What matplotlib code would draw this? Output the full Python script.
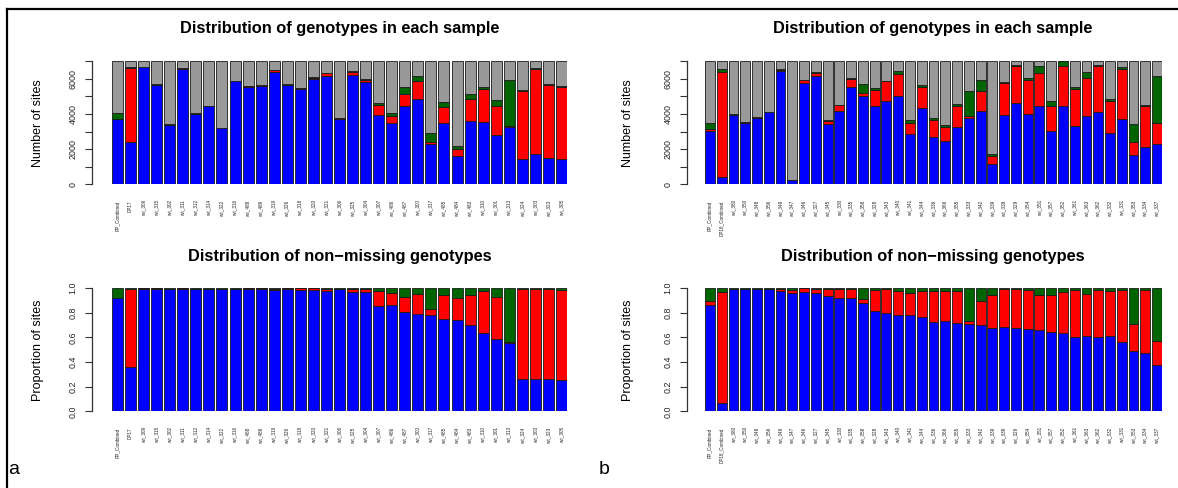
import matplotlib
matplotlib.use("Agg")
import matplotlib.pyplot as plt
from matplotlib.lines import Line2D
import numpy as np

plt.rcParams['font.family'] = ['Liberation Sans', 'DejaVu Sans']

# ---------------- data ----------------
N_SITES = 7010

samples_a = ["RP_Combined", "DP17", "wt_309", "wt_315", "wt_302", "wt_311", "wt_312",
             "wt_314", "wt_322", "wt_316", "wt_488", "wt_489", "wt_319", "wt_326",
             "wt_318", "wt_320", "wt_321", "wt_306", "wt_325", "wt_304", "wt_307",
             "wt_486", "wt_487", "wt_300", "wt_317", "wt_485", "wt_484", "wt_483",
             "wt_310", "wt_301", "wt_313", "wt_324", "wt_303", "wt_323", "wt_305"]
hom_ref_a = [3705, 2394, 6650, 5662, 3382, 6574, 4009, 4427, 3192, 5850, 5540, 5610,
             6400, 5630, 5430, 6000, 6175, 3724, 6232, 5795, 3952, 3477, 4465, 4864,
             2299, 3477, 1615, 3610, 3534, 2812, 3287, 1425, 1729, 1482, 1444]
het_a = [20, 4218, 20, 10, 10, 40, 15, 20, 10, 20, 30, 40, 80, 40, 50, 60, 150, 20,
         150, 150, 570, 418, 665, 988, 133, 912, 399, 1254, 1881, 1653, 57, 3895,
         4826, 4180, 4085]
hom_alt_a = [322, 50, 20, 20, 20, 20, 20, 20, 15, 30, 20, 20, 30, 20, 20, 20, 30, 20,
             40, 40, 95, 152, 399, 285, 513, 266, 171, 285, 114, 342, 2603, 57, 57,
             38, 76]

samples_b = ["RP_Combined", "DP18_Combined", "wt_380", "wt_350", "wt_348", "wt_356",
             "wt_349", "wt_347", "wt_346", "wt_327", "wt_345", "wt_330", "wt_335",
             "wt_358", "wt_328", "wt_343", "wt_340", "wt_341", "wt_344", "wt_336",
             "wt_366", "wt_355", "wt_333", "wt_342", "wt_339", "wt_338", "wt_329",
             "wt_354", "wt_351", "wt_357", "wt_352", "wt_361", "wt_363", "wt_362",
             "wt_332", "wt_331", "wt_353", "wt_334", "wt_337"]
hom_ref_b = [3040, 437, 3952, 3515, 3800, 4104, 6422, 247, 5757, 6137, 3420, 4142,
             5529, 5035, 4465, 4712, 4997, 2869, 4332, 2717, 2489, 3287, 3762, 4180,
             1159, 3952, 4617, 4009, 4427, 3040, 4427, 3344, 3895, 4085, 2945, 3724,
             1672, 2147, 2299]
het_b = [95, 5928, 10, 10, 10, 10, 100, 5, 170, 200, 209, 360, 480, 152, 912, 1140,
         1292, 646, 1197, 950, 798, 1178, 133, 1140, 456, 1805, 2128, 1938, 1900,
         1425, 2318, 2071, 2147, 2622, 1767, 2831, 760, 2318, 1178]
hom_alt_b = [380, 190, 20, 20, 20, 20, 33, 5, 20, 40, 38, 20, 33, 532, 95, 38, 133,
             152, 133, 95, 95, 114, 1425, 627, 95, 38, 57, 76, 380, 285, 247, 95,
             323, 95, 133, 95, 1007, 57, 2660]

COLORS = ["#0000ff", "#ff0000", "#006400", "#999999"]
EDGE = "#1a1a1a"

W, H = 1178, 488
ROW_SHIFT = 227  # vertical offset of the second row of plots, in pixels
fig = plt.figure(figsize=(W / 100, H / 100), dpi=100)


def axes_px(left, right, top, bottom):
    return fig.add_axes([left / W, 1 - bottom / H, (right - left) / W, (bottom - top) / H])


def stacked(ax, labels, segments, ylim, yticks, ylabels, bar_left_px, ax_left_px,
            ax_right_px):
    n = len(labels)
    x = np.arange(n)
    width = 0.84
    # x limits so the first bar starts at bar_left_px and the last ends at ax_right_px
    span_px = ax_right_px - bar_left_px
    unit = span_px / (n - 1 + width)
    left_lim = -width / 2 - (bar_left_px - ax_left_px) / unit
    right_lim = n - 1 + width / 2
    bottom = np.zeros(n)
    for seg, col in zip(segments, COLORS):
        seg = np.asarray(seg, dtype=float)
        ax.bar(x, seg, width=width, bottom=bottom, color=col, edgecolor=EDGE,
               linewidth=0.6)
        bottom += seg
    ax.set_xlim(left_lim, right_lim)
    ax.set_ylim(*ylim)
    for s in ["top", "right", "bottom"]:
        ax.spines[s].set_visible(False)
    ax.spines["left"].set_bounds(yticks[0], yticks[-1])
    ax.spines["left"].set_color("#333333")
    ax.spines["left"].set_linewidth(0.9)
    ax.set_yticks(yticks)
    ax.set_yticklabels(ylabels, rotation=90, va="center", fontsize=6.4, color="#222222")
    ax.tick_params(axis="y", length=5, width=0.8, color="#333333", pad=8.5)
    ax.set_xticks(x)
    ax.set_xticklabels(labels, rotation=90, fontsize=3.3, color="#222222")
    ax.tick_params(axis="x", length=0, pad=11.5)
    for lab in ax.get_yticklabels():
        lab.set_ha("center")
    ax.patch.set_alpha(0)


def panel(data, labels, ax_left, bar_left, bar_right, cx, ylab_x):
    ref, het, alt = [np.asarray(d, dtype=float) for d in data]
    missing = N_SITES - ref - het - alt

    # counts including missing sites
    ax1 = axes_px(ax_left, bar_right, 61, 184.4)
    tick_top = [0, 1000, 2000, 3000, 4000, 5000, 6000, 7000]
    tick_lab = ["0", "", "2000", "", "4000", "", "6000", ""]
    stacked(ax1, labels, [ref, het, alt, missing], (0, N_SITES), tick_top, tick_lab,
            bar_left, ax_left, bar_right)
    fig.text(cx / W, 1 - 29 / H, "Distribution of genotypes in each sample",
             ha="center", va="center", fontsize=11.8, fontweight="bold")
    fig.text(ylab_x / W, 1 - 123 / H, "Number of sites", rotation=90,
             ha="center", va="center", fontsize=9.0)

    # proportions among non-missing genotypes
    called = ref + het + alt
    ax2 = axes_px(ax_left, bar_right, 61 + ROW_SHIFT, 184.4 + ROW_SHIFT)
    tick_bot = [0, 0.2, 0.4, 0.6, 0.8, 1.0]
    stacked(ax2, labels, [ref / called, het / called, alt / called],
            (0, 1.0), tick_bot, ["0.0", "0.2", "0.4", "0.6", "0.8", "1.0"],
            bar_left, ax_left, bar_right)
    fig.text(cx / W, 1 - (29 + ROW_SHIFT) / H, "Distribution of non\u2212missing genotypes",
             ha="center", va="center", fontsize=11.8, fontweight="bold")
    fig.text(ylab_x / W, 1 - (123 + ROW_SHIFT) / H, "Proportion of sites", rotation=90,
             ha="center", va="center", fontsize=9.0)


panel((hom_ref_a, het_a, hom_alt_a), samples_a, 92, 112, 567, 340, 38)
panel((hom_ref_b, het_b, hom_alt_b), samples_b, 687, 705, 1162, 933, 628)

fig.text(14 / W, 1 - 470 / H, "a", ha="center", va="center", fontsize=14)
fig.text(604 / W, 1 - 470 / H, "b", ha="center", va="center", fontsize=14)

# outer frame
fig.add_artist(Line2D([7 / W, 7 / W], [0, 1 - 9 / H], transform=fig.transFigure,
                      color="black", linewidth=1.6))
fig.add_artist(Line2D([7 / W, 1], [1 - 9 / H, 1 - 9 / H], transform=fig.transFigure,
                      color="black", linewidth=1.6))

fig.savefig("out.png", dpi=100, facecolor="white")
